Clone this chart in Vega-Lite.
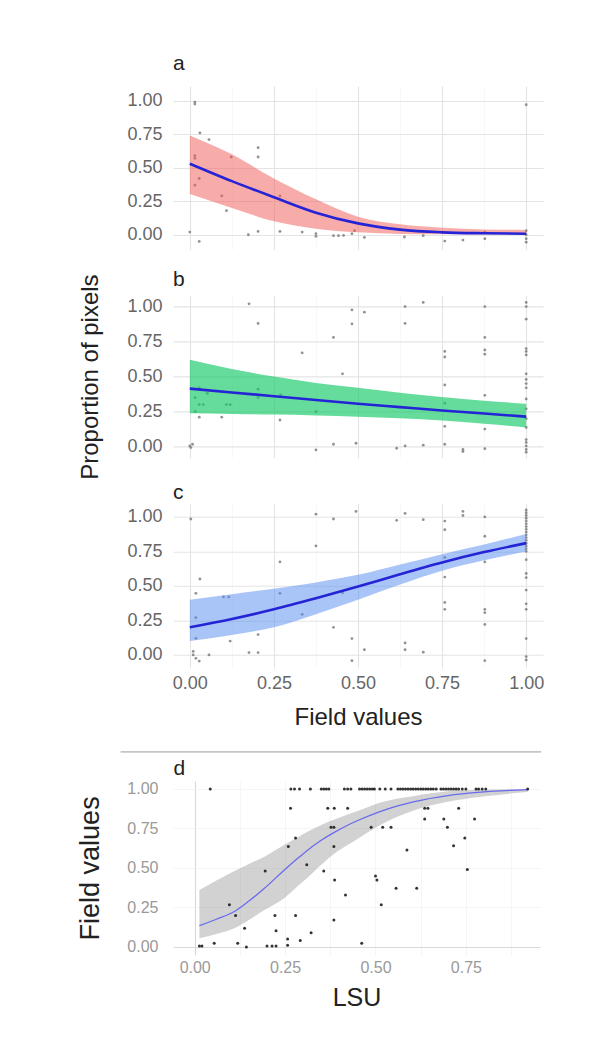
{
  "$schema": "https://vega.github.io/schema/vega-lite/v6.json",
  "background": "white",
  "padding": {"left": 76, "top": 53, "right": 10, "bottom": 10},
  "spacing": 22,
  "config": {
    "view": {"stroke": null},
    "font": "Liberation Sans",
    "axis": {"ticks": false, "domain": false, "labelFont": "Liberation Sans", "titleFont": "Liberation Sans", "labelFontSize": 18, "labelColor": "#666666", "titleFontWeight": "normal", "titleColor": "#222222"},
    "title": {"font": "Liberation Sans", "fontWeight": "normal", "color": "#222222", "fontSize": 21}
  },
  "datasets": {
    "pa": [
      {"x":0.015,"y":0.99},{"x":0.015,"y":0.975},{"x":1.0,"y":0.97},{"x":0.03,"y":0.76},{"x":0.057,"y":0.71},{"x":0.015,"y":0.59},{"x":0.015,"y":0.57},{"x":0.203,"y":0.65},{"x":0.203,"y":0.58},{"x":0.123,"y":0.58},{"x":0.028,"y":0.42},{"x":0.015,"y":0.37},{"x":0.095,"y":0.29},{"x":0.109,"y":0.18},{"x":0.268,"y":0.29},{"x":0.0,"y":0.02},{"x":0.028,"y":-0.05},{"x":0.174,"y":0.0},{"x":0.203,"y":0.025},{"x":0.268,"y":0.025},{"x":0.334,"y":0.02},{"x":0.375,"y":0.008},{"x":0.375,"y":-0.012},{"x":0.427,"y":-0.007},{"x":0.442,"y":-0.007},{"x":0.457,"y":-0.005},{"x":0.482,"y":0.008},{"x":0.49,"y":0.03},{"x":0.519,"y":-0.02},{"x":0.638,"y":-0.017},{"x":0.694,"y":-0.007},{"x":0.758,"y":-0.047},{"x":0.812,"y":-0.04},{"x":0.877,"y":0.02},{"x":0.877,"y":-0.03},{"x":1.0,"y":0.03},{"x":1.0,"y":0.0},{"x":1.0,"y":-0.03},{"x":1.0,"y":-0.055}
    ],
    "pb": [
      {"x":0.0,"y":0.005},{"x":0.008,"y":0.017},{"x":0.003,"y":-0.007},{"x":0.176,"y":1.02},{"x":0.203,"y":0.88},{"x":0.482,"y":0.976},{"x":0.519,"y":0.96},{"x":0.482,"y":0.877},{"x":0.64,"y":1.0},{"x":0.694,"y":1.03},{"x":0.64,"y":0.88},{"x":0.877,"y":1.0},{"x":1.0,"y":1.03},{"x":1.0,"y":1.0},{"x":1.0,"y":0.91},{"x":0.427,"y":0.78},{"x":0.334,"y":0.67},{"x":0.454,"y":0.52},{"x":0.758,"y":0.68},{"x":0.758,"y":0.64},{"x":0.877,"y":0.78},{"x":0.877,"y":0.69},{"x":0.877,"y":0.66},{"x":1.0,"y":0.7},{"x":1.0,"y":0.68},{"x":1.0,"y":0.655},{"x":1.0,"y":0.52},{"x":1.0,"y":0.48},{"x":1.0,"y":0.45},{"x":1.0,"y":0.42},{"x":1.0,"y":0.34},{"x":0.758,"y":0.44},{"x":0.877,"y":0.366},{"x":0.758,"y":0.31},{"x":1.0,"y":0.27},{"x":0.758,"y":0.145},{"x":0.877,"y":0.125},{"x":1.0,"y":0.2},{"x":1.0,"y":0.137},{"x":1.0,"y":0.05},{"x":1.0,"y":0.03},{"x":1.0,"y":0.005},{"x":1.0,"y":-0.02},{"x":1.0,"y":-0.04},{"x":0.812,"y":-0.02},{"x":0.812,"y":-0.035},{"x":0.877,"y":-0.015},{"x":0.758,"y":0.017},{"x":0.694,"y":0.01},{"x":0.64,"y":0.005},{"x":0.615,"y":-0.012},{"x":0.494,"y":0.024},{"x":0.427,"y":0.017},{"x":0.375,"y":-0.024},{"x":0.016,"y":0.41},{"x":0.016,"y":0.35},{"x":0.028,"y":0.42},{"x":0.052,"y":0.38},{"x":0.028,"y":0.3},{"x":0.04,"y":0.3},{"x":0.016,"y":0.25},{"x":0.028,"y":0.21},{"x":0.109,"y":0.3},{"x":0.12,"y":0.3},{"x":0.095,"y":0.21},{"x":0.203,"y":0.41},{"x":0.203,"y":0.35},{"x":0.27,"y":0.37},{"x":0.268,"y":0.19},{"x":0.375,"y":0.25}
    ],
    "pc": [
      {"x":0.003,"y":0.985},{"x":0.018,"y":0.446},{"x":0.03,"y":0.55},{"x":0.018,"y":0.27},{"x":0.018,"y":0.12},{"x":0.01,"y":0.025},{"x":0.01,"y":0.0},{"x":0.018,"y":-0.025},{"x":0.028,"y":-0.045},{"x":0.057,"y":0.0},{"x":0.1,"y":0.42},{"x":0.116,"y":0.42},{"x":0.12,"y":0.1},{"x":0.176,"y":0.017},{"x":0.203,"y":0.017},{"x":0.203,"y":0.147},{"x":0.268,"y":0.674},{"x":0.268,"y":0.446},{"x":0.334,"y":0.294},{"x":0.375,"y":1.02},{"x":0.375,"y":0.79},{"x":0.427,"y":0.985},{"x":0.427,"y":0.2},{"x":0.454,"y":0.45},{"x":0.482,"y":0.118},{"x":0.482,"y":-0.042},{"x":0.494,"y":1.04},{"x":0.519,"y":0.037},{"x":0.615,"y":0.975},{"x":0.64,"y":1.025},{"x":0.64,"y":0.086},{"x":0.64,"y":0.037},{"x":0.694,"y":0.98},{"x":0.694,"y":0.02},{"x":0.758,"y":0.97},{"x":0.758,"y":0.907},{"x":0.758,"y":0.706},{"x":0.758,"y":0.564},{"x":0.758,"y":0.38},{"x":0.758,"y":0.33},{"x":0.812,"y":1.04},{"x":0.812,"y":1.01},{"x":0.877,"y":1.0},{"x":0.877,"y":0.86},{"x":0.877,"y":0.674},{"x":0.877,"y":0.33},{"x":0.877,"y":0.306},{"x":0.877,"y":0.22},{"x":0.877,"y":-0.042},{"x":1.0,"y":1.05},{"x":1.0,"y":1.03},{"x":1.0,"y":1.01},{"x":1.0,"y":0.99},{"x":1.0,"y":0.97},{"x":1.0,"y":0.95},{"x":1.0,"y":0.93},{"x":1.0,"y":0.91},{"x":1.0,"y":0.89},{"x":1.0,"y":0.87},{"x":1.0,"y":0.85},{"x":1.0,"y":0.83},{"x":1.0,"y":0.81},{"x":1.0,"y":0.79},{"x":1.0,"y":0.77},{"x":1.0,"y":0.75},{"x":1.0,"y":0.69},{"x":1.0,"y":0.59},{"x":1.0,"y":0.56},{"x":1.0,"y":0.47},{"x":1.0,"y":0.37},{"x":1.0,"y":0.33},{"x":1.0,"y":0.118},{"x":1.0,"y":-0.012},{"x":1.0,"y":-0.037}
    ],
    "pd": [
      {"x":0.043,"y":1},{"x":0.266,"y":1},{"x":0.276,"y":1},{"x":0.29,"y":1},{"x":0.32,"y":1},{"x":0.35,"y":1},{"x":0.357,"y":1},{"x":0.364,"y":1},{"x":0.371,"y":1},{"x":0.414,"y":1},{"x":0.423,"y":1},{"x":0.432,"y":1},{"x":0.456,"y":1},{"x":0.463,"y":1},{"x":0.47,"y":1},{"x":0.477,"y":1},{"x":0.484,"y":1},{"x":0.491,"y":1},{"x":0.497,"y":1},{"x":0.512,"y":1},{"x":0.527,"y":1},{"x":0.543,"y":1},{"x":0.562,"y":1},{"x":0.569,"y":1},{"x":0.576,"y":1},{"x":0.583,"y":1},{"x":0.59,"y":1},{"x":0.597,"y":1},{"x":0.604,"y":1},{"x":0.611,"y":1},{"x":0.618,"y":1},{"x":0.625,"y":1},{"x":0.632,"y":1},{"x":0.639,"y":1},{"x":0.646,"y":1},{"x":0.653,"y":1},{"x":0.66,"y":1},{"x":0.668,"y":1},{"x":0.681,"y":1},{"x":0.688,"y":1},{"x":0.695,"y":1},{"x":0.702,"y":1},{"x":0.709,"y":1},{"x":0.716,"y":1},{"x":0.723,"y":1},{"x":0.73,"y":1},{"x":0.74,"y":1},{"x":0.75,"y":1},{"x":0.778,"y":1},{"x":0.785,"y":1},{"x":0.795,"y":1},{"x":0.805,"y":1},{"x":0.921,"y":1},
      {"x":0.265,"y":0.878},{"x":0.368,"y":0.878},{"x":0.386,"y":0.878},{"x":0.423,"y":0.878},{"x":0.636,"y":0.878},{"x":0.645,"y":0.878},{"x":0.73,"y":0.878},
      {"x":0.636,"y":0.81},{"x":0.689,"y":0.81},{"x":0.774,"y":0.81},
      {"x":0.377,"y":0.757},{"x":0.385,"y":0.757},{"x":0.488,"y":0.757},{"x":0.52,"y":0.757},{"x":0.543,"y":0.757},{"x":0.699,"y":0.757},
      {"x":0.279,"y":0.69},{"x":0.747,"y":0.69},{"x":0.259,"y":0.635},{"x":0.385,"y":0.635},{"x":0.716,"y":0.64},{"x":0.587,"y":0.614},
      {"x":0.31,"y":0.52},{"x":0.195,"y":0.48},{"x":0.357,"y":0.48},{"x":0.754,"y":0.49},{"x":0.5,"y":0.449},{"x":0.504,"y":0.424},{"x":0.387,"y":0.424},
      {"x":0.557,"y":0.371},{"x":0.614,"y":0.371},{"x":0.417,"y":0.329},{"x":0.096,"y":0.266},{"x":0.516,"y":0.266},
      {"x":0.113,"y":0.198},{"x":0.222,"y":0.198},{"x":0.279,"y":0.198},{"x":0.385,"y":0.171},
      {"x":0.138,"y":0.118},{"x":0.225,"y":0.103},{"x":0.322,"y":0.09},{"x":0.257,"y":0.05},{"x":0.292,"y":0.04},
      {"x":0.013,"y":0.005},{"x":0.02,"y":0.005},{"x":0.054,"y":0.023},{"x":0.119,"y":0.023},{"x":0.143,"y":0.0},{"x":0.2,"y":0.005},{"x":0.214,"y":0.005},{"x":0.225,"y":0.005},{"x":0.257,"y":0.01},{"x":0.462,"y":0.023}
    ],
    "ca": [
      {"x":0,"fit":0.53,"lo":0.305,"hi":0.74},{"x":0.125,"fit":0.4,"lo":0.2,"hi":0.6},{"x":0.25,"fit":0.28,"lo":0.1,"hi":0.42},{"x":0.375,"fit":0.165,"lo":0.045,"hi":0.265},{"x":0.5,"fit":0.085,"lo":0.018,"hi":0.135},{"x":0.625,"fit":0.038,"lo":0.006,"hi":0.078},{"x":0.75,"fit":0.018,"lo":0.003,"hi":0.052},{"x":0.875,"fit":0.011,"lo":0.002,"hi":0.04},{"x":1,"fit":0.008,"lo":0.002,"hi":0.036}
    ],
    "cb": [
      {"x":0,"fit":0.414,"lo":0.238,"hi":0.62},{"x":0.125,"fit":0.387,"lo":0.233,"hi":0.555},{"x":0.25,"fit":0.36,"lo":0.229,"hi":0.5},{"x":0.375,"fit":0.333,"lo":0.223,"hi":0.455},{"x":0.5,"fit":0.306,"lo":0.214,"hi":0.42},{"x":0.625,"fit":0.282,"lo":0.202,"hi":0.385},{"x":0.75,"fit":0.258,"lo":0.186,"hi":0.354},{"x":0.875,"fit":0.236,"lo":0.164,"hi":0.328},{"x":1,"fit":0.214,"lo":0.137,"hi":0.306}
    ],
    "cc": [
      {"x":0,"fit":0.2,"lo":0.1,"hi":0.4},{"x":0.125,"fit":0.26,"lo":0.145,"hi":0.44},{"x":0.25,"fit":0.33,"lo":0.2,"hi":0.48},{"x":0.375,"fit":0.41,"lo":0.295,"hi":0.525},{"x":0.5,"fit":0.495,"lo":0.4,"hi":0.58},{"x":0.625,"fit":0.585,"lo":0.51,"hi":0.655},{"x":0.75,"fit":0.67,"lo":0.61,"hi":0.73},{"x":0.875,"fit":0.745,"lo":0.685,"hi":0.8},{"x":1,"fit":0.81,"lo":0.75,"hi":0.876}
    ],
    "cd": [
      {"x":0.013,"fit":0.135,"lo":0.055,"hi":0.36},{"x":0.06,"fit":0.175,"lo":0.082,"hi":0.42},{"x":0.11,"fit":0.224,"lo":0.118,"hi":0.48},{"x":0.15,"fit":0.29,"lo":0.17,"hi":0.525},{"x":0.193,"fit":0.371,"lo":0.233,"hi":0.571},{"x":0.248,"fit":0.487,"lo":0.31,"hi":0.646},{"x":0.29,"fit":0.57,"lo":0.395,"hi":0.7},{"x":0.313,"fit":0.614,"lo":0.44,"hi":0.73},{"x":0.35,"fit":0.675,"lo":0.52,"hi":0.772},{"x":0.386,"fit":0.725,"lo":0.59,"hi":0.806},{"x":0.423,"fit":0.77,"lo":0.645,"hi":0.838},{"x":0.451,"fit":0.8,"lo":0.685,"hi":0.86},{"x":0.516,"fit":0.86,"lo":0.775,"hi":0.915},{"x":0.608,"fit":0.92,"lo":0.865,"hi":0.955},{"x":0.7,"fit":0.958,"lo":0.918,"hi":0.985},{"x":0.792,"fit":0.98,"lo":0.95,"hi":0.994},{"x":0.921,"fit":0.995,"lo":0.98,"hi":1.0}
    ]
  },
  "vconcat": [
    {
      "bounds": "flush",
      "spacing": 45.4,
      "vconcat": [
        {
          "width": 370, "height": 163.5,
          "title": {"text": "a", "anchor": "start", "frame": "group", "offset": 12},
          "layer": [
            {"data": {"name": "pa"}, "mark": {"type": "circle", "size": 8, "color": "#777777", "opacity": 0.8},
             "encoding": {
               "x": {"field": "x", "type": "quantitative", "scale": {"domain": [-0.05, 1.05], "nice": false}, "axis": {"values": [0,0.125,0.25,0.375,0.5,0.625,0.75,0.875,1], "labels": false, "title": null, "gridColor": {"condition": {"test": "datum.value * 4 % 1 !== 0", "value": "#f3f3f3"}, "value": "#e4e4e4"}, "gridWidth": {"condition": {"test": "datum.value * 4 % 1 !== 0", "value": 0.6}, "value": 1.1}}},
               "y": {"field": "y", "type": "quantitative", "scale": {"domain": [-0.11, 1.11], "nice": false}, "axis": {"values": [0,0.125,0.25,0.375,0.5,0.625,0.75,0.875,1], "labelExpr": "datum.value * 4 % 1 === 0 ? format(datum.value, '.2f') : ''", "labelPadding": 11, "title": null, "gridColor": {"condition": {"test": "datum.value * 4 % 1 !== 0", "value": "#f3f3f3"}, "value": "#e4e4e4"}, "gridWidth": {"condition": {"test": "datum.value * 4 % 1 !== 0", "value": 0.6}, "value": 1.1}}}
             }},
            {"data": {"name": "ca"}, "mark": {"type": "area", "color": "#f15955", "opacity": 0.5, "interpolate": "monotone"},
             "encoding": {"x": {"field": "x", "type": "quantitative"}, "y": {"field": "lo", "type": "quantitative"}, "y2": {"field": "hi"}}},
            {"data": {"name": "ca"}, "mark": {"type": "line", "color": "#2424d6", "strokeWidth": 2.6, "interpolate": "monotone"},
             "encoding": {"x": {"field": "x", "type": "quantitative"}, "y": {"field": "fit", "type": "quantitative"}}}
          ]
        },
        {
          "width": 370, "height": 162.4,
          "title": {"text": "b", "anchor": "start", "frame": "group", "offset": -16.5},
          "layer": [
            {"data": {"name": "pb"}, "mark": {"type": "circle", "size": 8, "color": "#777777", "opacity": 0.8},
             "encoding": {
               "x": {"field": "x", "type": "quantitative", "scale": {"domain": [-0.05, 1.05], "nice": false}, "axis": {"values": [0,0.125,0.25,0.375,0.5,0.625,0.75,0.875,1], "labels": false, "title": null, "gridColor": {"condition": {"test": "datum.value * 4 % 1 !== 0", "value": "#f3f3f3"}, "value": "#e4e4e4"}, "gridWidth": {"condition": {"test": "datum.value * 4 % 1 !== 0", "value": 0.6}, "value": 1.1}}},
               "y": {"field": "y", "type": "quantitative", "scale": {"domain": [-0.08, 1.08], "nice": false}, "axis": {"values": [0,0.125,0.25,0.375,0.5,0.625,0.75,0.875,1], "labelExpr": "datum.value * 4 % 1 === 0 ? format(datum.value, '.2f') : ''", "labelPadding": 11, "title": "Proportion of pixels", "titleFontSize": 24, "titlePadding": 24, "gridColor": {"condition": {"test": "datum.value * 4 % 1 !== 0", "value": "#f3f3f3"}, "value": "#e4e4e4"}, "gridWidth": {"condition": {"test": "datum.value * 4 % 1 !== 0", "value": 0.6}, "value": 1.1}}}
             }},
            {"data": {"name": "cb"}, "mark": {"type": "area", "color": "#14c967", "opacity": 0.65, "interpolate": "monotone"},
             "encoding": {"x": {"field": "x", "type": "quantitative"}, "y": {"field": "lo", "type": "quantitative"}, "y2": {"field": "hi"}}},
            {"data": {"name": "cb"}, "mark": {"type": "line", "color": "#2424d6", "strokeWidth": 2.6, "interpolate": "monotone"},
             "encoding": {"x": {"field": "x", "type": "quantitative"}, "y": {"field": "fit", "type": "quantitative"}}}
          ]
        },
        {
          "width": 370, "height": 164.2,
          "title": {"text": "c", "anchor": "start", "frame": "group", "offset": 1},
          "layer": [
            {"data": {"name": "pc"}, "mark": {"type": "circle", "size": 8, "color": "#777777", "opacity": 0.8},
             "encoding": {
               "x": {"field": "x", "type": "quantitative", "scale": {"domain": [-0.05, 1.05], "nice": false}, "axis": {"values": [0,0.125,0.25,0.375,0.5,0.625,0.75,0.875,1], "labelExpr": "datum.value * 4 % 1 === 0 ? format(datum.value, '.2f') : ''", "labelPadding": 6, "title": "Field values", "titleFontSize": 24, "titlePadding": 13, "gridColor": {"condition": {"test": "datum.value * 4 % 1 !== 0", "value": "#f3f3f3"}, "value": "#e4e4e4"}, "gridWidth": {"condition": {"test": "datum.value * 4 % 1 !== 0", "value": 0.6}, "value": 1.1}}},
               "y": {"field": "y", "type": "quantitative", "scale": {"domain": [-0.095, 1.095], "nice": false}, "axis": {"values": [0,0.125,0.25,0.375,0.5,0.625,0.75,0.875,1], "labelExpr": "datum.value * 4 % 1 === 0 ? format(datum.value, '.2f') : ''", "labelPadding": 11, "title": null, "gridColor": {"condition": {"test": "datum.value * 4 % 1 !== 0", "value": "#f3f3f3"}, "value": "#e4e4e4"}, "gridWidth": {"condition": {"test": "datum.value * 4 % 1 !== 0", "value": 0.6}, "value": 1.1}}}
             }},
            {"data": {"name": "cc"}, "mark": {"type": "area", "color": "#538bef", "opacity": 0.5, "interpolate": "monotone"},
             "encoding": {"x": {"field": "x", "type": "quantitative"}, "y": {"field": "lo", "type": "quantitative"}, "y2": {"field": "hi"}}},
            {"data": {"name": "cc"}, "mark": {"type": "line", "color": "#2424d6", "strokeWidth": 2.6, "interpolate": "monotone"},
             "encoding": {"x": {"field": "x", "type": "quantitative"}, "y": {"field": "fit", "type": "quantitative"}}}
          ]
        }
      ]
    },
    {
      "width": 367, "height": 173.8,
      "layer": [
        {
          "layer": [
            {"data": {"name": "cd"}, "mark": {"type": "area", "color": "#8f8f8f", "opacity": 0.4, "interpolate": "monotone"},
             "encoding": {
               "x": {"field": "x", "type": "quantitative", "scale": {"domain": [-0.06, 0.955], "nice": false}, "axis": {"values": [0,0.125,0.25,0.375,0.5,0.625,0.75,0.875], "labelExpr": "datum.value * 4 % 1 === 0 ? format(datum.value, '.2f') : ''", "labelFontSize": 16, "labelColor": "#999999", "labelPadding": 5, "title": "LSU", "titleFontSize": 25, "titlePadding": 10, "gridColor": {"condition": {"test": "datum.value === 0", "value": "#d9d9d9"}, "value": "#f2f2f2"}, "gridWidth": {"condition": {"test": "datum.value === 0", "value": 1.2}, "value": 0.8}}},
               "y": {"field": "lo", "type": "quantitative", "scale": {"domain": [-0.05, 1.05], "nice": false}, "axis": {"values": [0,0.125,0.25,0.375,0.5,0.625,0.75,0.875,1], "labelExpr": "datum.value * 4 % 1 === 0 ? format(datum.value, '.2f') : ''", "labelFontSize": 16, "labelColor": "#999999", "labelPadding": 15, "title": "Field values", "titleFontSize": 27, "titlePadding": 22, "gridColor": {"condition": {"test": "datum.value === 0", "value": "#d9d9d9"}, "value": "#f2f2f2"}, "gridWidth": {"condition": {"test": "datum.value === 0", "value": 1.2}, "value": 0.8}}},
               "y2": {"field": "hi"}
             }},
            {"data": {"name": "cd"}, "mark": {"type": "line", "color": "#6a6aee", "strokeWidth": 1.3, "interpolate": "monotone"},
             "encoding": {"x": {"field": "x", "type": "quantitative"}, "y": {"field": "fit", "type": "quantitative"}}},
            {"data": {"name": "pd"}, "mark": {"type": "circle", "size": 9, "color": "#111111", "opacity": 0.85},
             "encoding": {"x": {"field": "x", "type": "quantitative"}, "y": {"field": "y", "type": "quantitative"}}}
          ]
        },
        {
          "data": {"values": [{}]},
          "mark": {"type": "rule", "color": "#9a9a9a", "strokeWidth": 1},
          "encoding": {
            "x": {"datum": -0.205, "type": "quantitative", "scale": {"domain": [-0.06, 0.955], "nice": false}, "axis": {"orient": "top", "title": "d", "titleAnchor": "start", "titleAlign": "left", "titleFontSize": 21, "titlePadding": 3, "labels": false, "grid": false}},
            "x2": {"datum": 0.958},
            "y": {"datum": 1.234, "type": "quantitative", "scale": {"domain": [-0.05, 1.05], "nice": false}, "axis": null}
          }
        }
      ],
      "resolve": {"axis": {"x": "independent", "y": "independent"}}
    }
  ]
}
